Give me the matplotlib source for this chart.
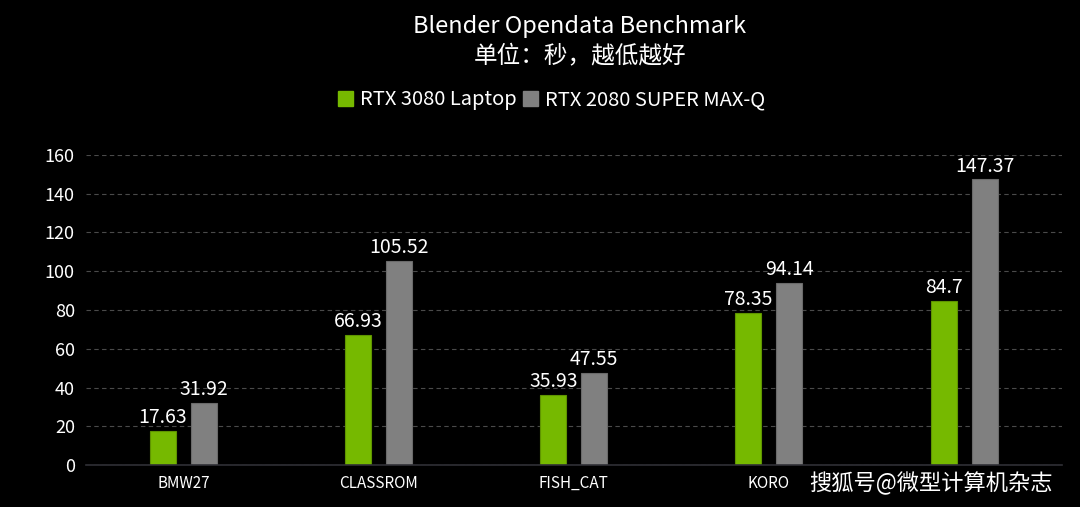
import matplotlib
matplotlib.use("Agg")
import matplotlib.pyplot as plt
import numpy as np
from matplotlib.patches import Patch

plt.rcParams['font.family'] = ['Noto Sans CJK SC', 'DejaVu Sans']

categories = ["BMW27", "CLASSROM", "FISH_CAT", "KORO", ""]
series_names = ["RTX 3080 Laptop", "RTX 2080 SUPER MAX-Q"]
rtx3080 = [17.63, 66.93, 35.93, 78.35, 84.7]
rtx2080 = [31.92, 105.52, 47.55, 94.14, 147.37]
value_labels_3080 = ["17.63", "66.93", "35.93", "78.35", "84.7"]
value_labels_2080 = ["31.92", "105.52", "47.55", "94.14", "147.37"]
yticks = [0, 20, 40, 60, 80, 100, 120, 140, 160]

green = "#76b900"
gray = "#808080"

fig = plt.figure(figsize=(10.8, 5.07), dpi=100, facecolor="black")
ax = fig.add_axes([0.0796, 0.0828, 0.9034, 0.6115], facecolor="black")

x = np.arange(len(categories))
w = 0.133
off = 0.105
ax.bar(x - off, rtx3080, width=w, color=green, edgecolor="#5f9400", linewidth=0.8, zorder=3)
ax.bar(x + off, rtx2080, width=w, color=gray, edgecolor="#6a6a6a", linewidth=0.8, zorder=3)

for xi, v, s in zip(x, rtx3080, value_labels_3080):
    ax.text(xi - off, v + 1.5, s, ha="center", va="bottom", color="white", fontsize=14)
for xi, v, s in zip(x, rtx2080, value_labels_2080):
    ax.text(xi + off, v + 1.5, s, ha="center", va="bottom", color="white", fontsize=14)

ax.set_xlim(-0.5, len(categories) - 0.5)
ax.set_ylim(0, 160)
ax.set_yticks(yticks)
ax.set_yticklabels([str(t) for t in yticks], color="white", fontsize=13)
ax.set_xticks(x)
ax.set_xticklabels(categories, color="white", fontsize=11)
ax.tick_params(axis="both", length=0, pad=7)
ax.tick_params(axis="y", pad=8)
ax.grid(axis="y", color="#4a4a4a", linestyle=(0, (4, 3)), linewidth=0.8, zorder=0)
for sp in ["top", "right", "left"]:
    ax.spines[sp].set_visible(False)
ax.spines["bottom"].set_color("#303036")
ax.spines["bottom"].set_linewidth(1.2)
ax.spines["bottom"].set_zorder(4)

fig.text(0.537, 0.947, "Blender Opendata Benchmark", ha="center", va="center", color="white", fontsize=17)
fig.text(0.537, 0.888, "单位：秒，越低越好", ha="center", va="center", color="white", fontsize=17)

handles = [Patch(facecolor=green, edgecolor=green), Patch(facecolor=gray, edgecolor=gray)]
fig.legend(handles, series_names, loc="center", bbox_to_anchor=(0.511, 0.803), ncol=2,
           frameon=False, fontsize=14.5, labelcolor="white", handlelength=0.75, handleheight=0.75,
           handletextpad=0.35, columnspacing=0.3)

fig.text(0.975, 0.047, "搜狐号@微型计算机杂志", ha="right", va="center", color="white", fontsize=16,
         fontweight="medium", bbox=dict(facecolor="black", edgecolor="none", pad=2))

fig.savefig("out.png", dpi=100, facecolor="black")
